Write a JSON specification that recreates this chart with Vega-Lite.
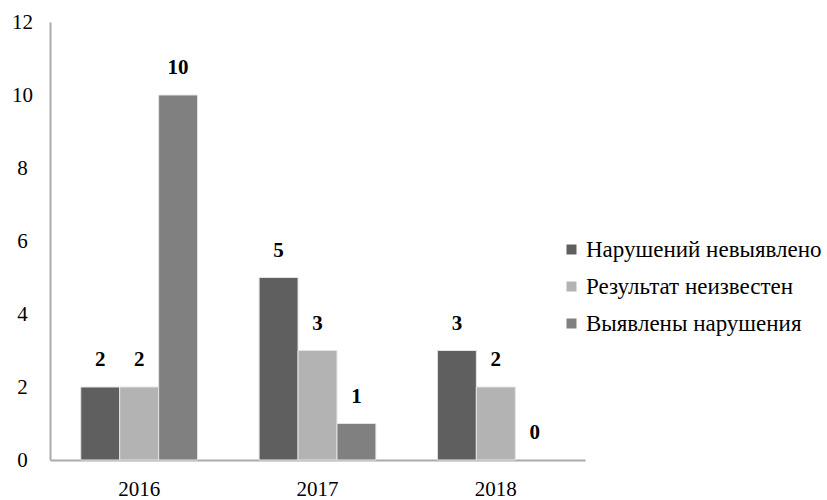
{
  "$schema": "https://vega.github.io/schema/vega-lite/v6.json",
  "width": 535,
  "height": 438,
  "autosize": {"type": "none"},
  "padding": {"left": 50, "top": 22, "right": 242, "bottom": 40},
  "background": "white",
  "config": {
    "view": {"stroke": null},
    "font": "Liberation Serif"
  },
  "data": {
    "values": [
      {"year": "2016", "category": "Нарушений невыявлено", "value": 2},
      {"year": "2016", "category": "Результат неизвестен", "value": 2},
      {"year": "2016", "category": "Выявлены нарушения", "value": 10},
      {"year": "2017", "category": "Нарушений невыявлено", "value": 5},
      {"year": "2017", "category": "Результат неизвестен", "value": 3},
      {"year": "2017", "category": "Выявлены нарушения", "value": 1},
      {"year": "2018", "category": "Нарушений невыявлено", "value": 3},
      {"year": "2018", "category": "Результат неизвестен", "value": 2},
      {"year": "2018", "category": "Выявлены нарушения", "value": 0}
    ]
  },
  "encoding": {
    "x": {
      "field": "year",
      "type": "nominal",
      "scale": {"paddingInner": 0.345, "paddingOuter": 0.1725},
      "axis": {
        "title": null,
        "labelAngle": 0,
        "labelFont": "Liberation Serif",
        "labelFontSize": 21,
        "labelColor": "#000000",
        "labelPadding": 18,
        "ticks": false,
        "domainColor": "#aaaaaa",
        "domainWidth": 2
      }
    },
    "xOffset": {
      "field": "category",
      "type": "nominal",
      "sort": ["Нарушений невыявлено", "Результат неизвестен", "Выявлены нарушения"],
      "scale": {"paddingInner": 0, "paddingOuter": 0}
    },
    "y": {
      "field": "value",
      "type": "quantitative",
      "scale": {"domain": [0, 12]},
      "axis": {
        "title": null,
        "values": [0, 2, 4, 6, 8, 10, 12],
        "grid": false,
        "ticks": false,
        "labelFont": "Liberation Serif",
        "labelFontSize": 21,
        "labelColor": "#000000",
        "labelAlign": "center",
        "labelPadding": 28,
        "domainColor": "#aaaaaa",
        "domainWidth": 2
      }
    }
  },
  "layer": [
    {
      "mark": {"type": "bar", "stroke": "#e4e4e4", "strokeWidth": 1},
      "encoding": {
        "strokeOpacity": {
          "condition": {"test": "datum.value === 0", "value": 0},
          "value": 1
        },
        "color": {
          "field": "category",
          "type": "nominal",
          "sort": ["Нарушений невыявлено", "Результат неизвестен", "Выявлены нарушения"],
          "scale": {
            "domain": ["Нарушений невыявлено", "Результат неизвестен", "Выявлены нарушения"],
            "range": ["#5f5f5f", "#b3b3b3", "#808080"]
          },
          "legend": {
            "title": null,
            "orient": "none",
            "legendX": 510,
            "legendY": 216,
            "symbolType": "square",
            "symbolSize": 100,
            "symbolStrokeWidth": 0,
            "labelFont": "Liberation Serif",
            "labelFontSize": 23,
            "labelColor": "#000000",
            "labelOffset": 3,
            "rowPadding": 13,
            "labelLimit": 300
          }
        }
      }
    },
    {
      "mark": {
        "type": "text",
        "font": "Liberation Serif",
        "fontWeight": "bold",
        "fontSize": 21,
        "dy": -27,
        "baseline": "middle",
        "color": "#000000"
      },
      "encoding": {
        "text": {"field": "value", "type": "quantitative"}
      }
    }
  ]
}
